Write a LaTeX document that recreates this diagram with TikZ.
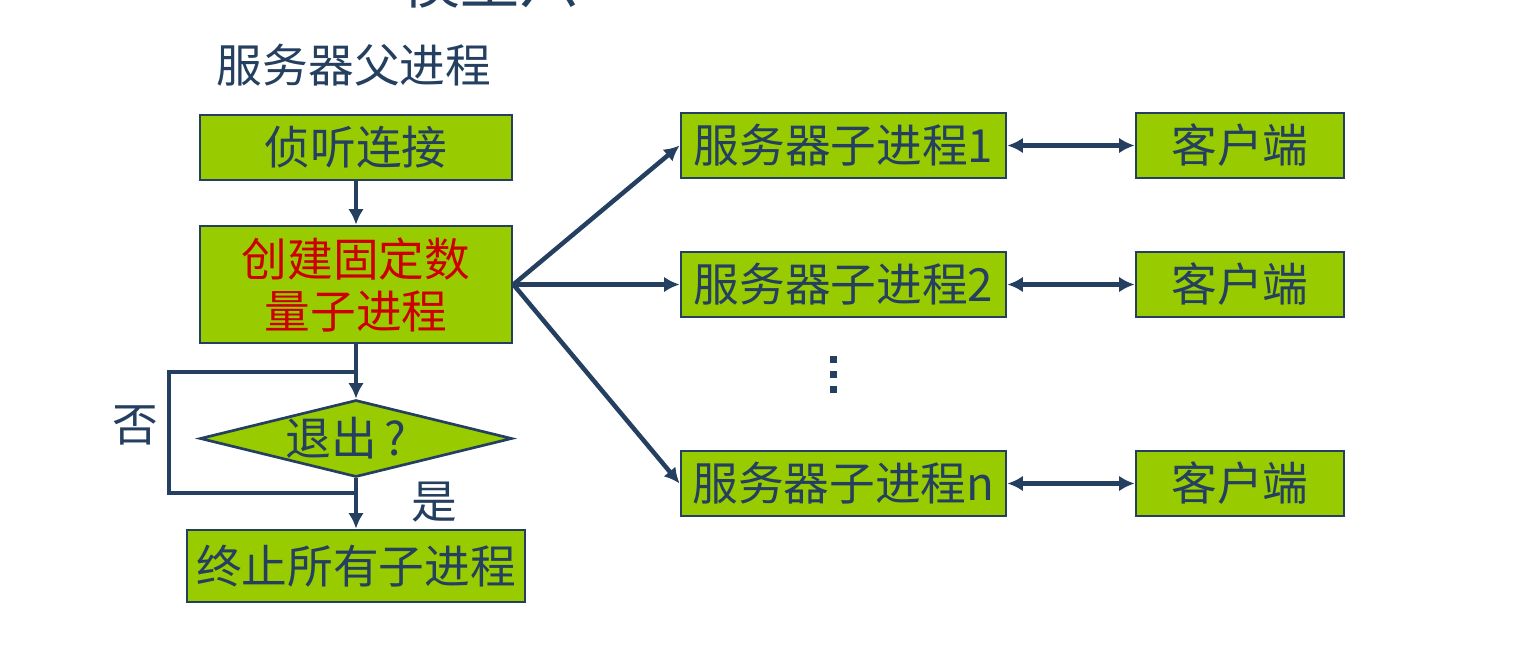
\documentclass[tikz,border=0pt]{standalone}
\usepackage{fontspec}
\setmainfont{Noto Sans CJK SC}
\usetikzlibrary{shapes,arrows,arrows.meta}

\definecolor{linec}{HTML}{243F60}
\definecolor{boxgreen}{HTML}{99CC00}
\definecolor{textred}{HTML}{CC0000}

\begin{document}
\begin{tikzpicture}[x=0.025cm, y=-0.025cm,
    big/.style={font=\fontsize{32.5}{37}\selectfont, text=linec},
    box/.style={big, draw=linec, line width=1.9pt, fill=boxgreen, inner sep=0pt,
      minimum height=1.625cm},
    tip/.tip={Latex[length=11pt, width=11pt]},
    flow/.style={draw=linec, line width=3.2pt, -tip},
    line/.style={draw=linec, line width=3.2pt}]
      \useasboundingbox (0,0) rectangle (1522,646);
      \begin{scope}
      \clip (0,0) rectangle (1522,646);
      \node (title) [anchor=base, font=\fontsize{42}{48}\selectfont, text=linec] at (490,3) {模型六};
      \end{scope}
      \node (parent) [big] at (354,65) {服务器父进程};

      % left column
      \node (listen) [box, minimum width=7.8cm] at (356,147.5) {侦听连接};
      \node (create) [box, minimum width=7.8cm, minimum height=2.925cm, text=textred, align=center]
        at (356,284.5) {创建固定数\\量子进程};
      \node (quit) [big, diamond, draw=linec, line width=1.9pt, fill=boxgreen, inner sep=0pt,
        aspect=4.05, minimum width=7.8cm, minimum height=1.925cm] at (356,438.5) {\kern-0.5cm 退出\,?};
      \node (stop) [box, minimum width=8.45cm, minimum height=1.8cm] at (356,566) {终止所有子进程};
      \node (no) [big] at (135,425) {否};
      \node (yes) [big] at (434,502) {是};

      \coordinate (looptop) at (356,372);
      \coordinate (loopbot) at (356,493);
      \draw [line] (loopbot) -- ++(-187,0) |- (looptop);
      \draw [flow] (listen) -- (create);
      \draw [flow] (create) -- (quit);
      \draw [flow] (quit) -- (stop);

      % children and clients
      \foreach \name/\y/\num in {childa/145.5/1, childb/284.5/2, childn/483.5/n}{
      \node (\name) [box, minimum width=8.125cm] at (843.5,\y) {服务器子进程\num};
      \node (client\name) [box, minimum width=5.2cm] at (1240,\y) {客户端};
      \draw [flow] (create.east) -- (\name.west);
      \draw [flow, tip-tip] (\name.east) -- (client\name.west); }

      \foreach \y in {359,374,389}
      \fill [linec] (829.5,\y-3.5) rectangle (836.5,\y+3.5);
    \end{tikzpicture}
\end{document}
